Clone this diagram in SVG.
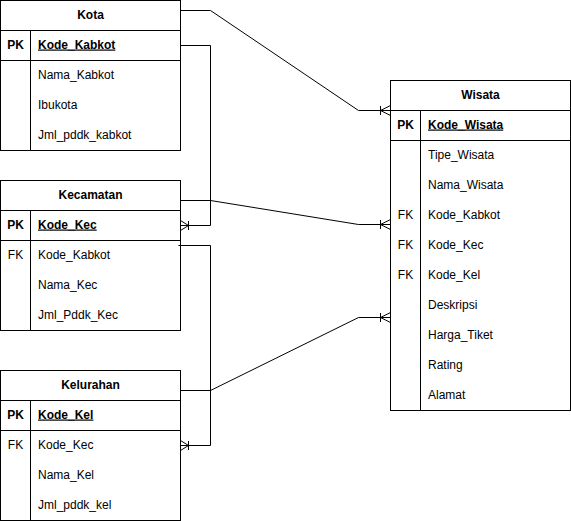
<svg xmlns="http://www.w3.org/2000/svg" width="571" height="521" viewBox="0 0 571 521">
  <style>
    .box { fill: #ffffff; stroke: #000000; stroke-width: 1; }
    .ln { fill: none; stroke: #000000; stroke-width: 1; }
    text { font-family: "Liberation Sans", Arial, Helvetica, sans-serif; font-size: 12px; fill: #000000; }
    .title { font-weight: bold; text-anchor: middle; }
    .key { font-weight: bold; text-anchor: middle; }
    .fk { text-anchor: middle; }
    .pk { font-weight: bold; text-decoration: underline; }
  </style>
  <rect width="571" height="521" fill="#ffffff"/>

  <!-- Kota -->
  <g id="kota">
    <rect class="box" x="0.5" y="0.5" width="180" height="150"/>
    <line class="ln" x1="0.5" y1="30.5" x2="180.5" y2="30.5"/>
    <line class="ln" x1="0.5" y1="60.5" x2="180.5" y2="60.5"/>
    <line class="ln" x1="30.5" y1="30.5" x2="30.5" y2="150.5"/>
    <text class="title" x="90.5" y="18.5">Kota</text>
    <text class="key" x="15.5" y="48.5">PK</text>
    <text class="pk" x="38" y="48.5">Kode_Kabkot</text>
    <text x="38" y="78.5">Nama_Kabkot</text>
    <text x="38" y="108.5">Ibukota</text>
    <text x="38" y="138.5">Jml_pddk_kabkot</text>
  </g>

  <!-- Kecamatan -->
  <g id="kecamatan">
    <rect class="box" x="0.5" y="180.5" width="180" height="150"/>
    <line class="ln" x1="0.5" y1="210.5" x2="180.5" y2="210.5"/>
    <line class="ln" x1="0.5" y1="240.5" x2="180.5" y2="240.5"/>
    <line class="ln" x1="30.5" y1="210.5" x2="30.5" y2="330.5"/>
    <text class="title" x="90.5" y="198.5">Kecamatan</text>
    <text class="key" x="15.5" y="228.5">PK</text>
    <text class="pk" x="38" y="228.5">Kode_Kec</text>
    <text class="fk" x="15.5" y="258.5">FK</text>
    <text x="38" y="258.5">Kode_Kabkot</text>
    <text x="38" y="288.5">Nama_Kec</text>
    <text x="38" y="318.5">Jml_Pddk_Kec</text>
  </g>

  <!-- Kelurahan -->
  <g id="kelurahan">
    <rect class="box" x="0.5" y="370.5" width="180" height="150"/>
    <line class="ln" x1="0.5" y1="400.5" x2="180.5" y2="400.5"/>
    <line class="ln" x1="0.5" y1="430.5" x2="180.5" y2="430.5"/>
    <line class="ln" x1="30.5" y1="400.5" x2="30.5" y2="520.5"/>
    <text class="title" x="90.5" y="388.5">Kelurahan</text>
    <text class="key" x="15.5" y="418.5">PK</text>
    <text class="pk" x="38" y="418.5">Kode_Kel</text>
    <text class="fk" x="15.5" y="448.5">FK</text>
    <text x="38" y="448.5">Kode_Kec</text>
    <text x="38" y="478.5">Nama_Kel</text>
    <text x="38" y="508.5">Jml_pddk_kel</text>
  </g>

  <!-- Wisata -->
  <g id="wisata">
    <rect class="box" x="390.5" y="80.5" width="180" height="330"/>
    <line class="ln" x1="390.5" y1="110.5" x2="570.5" y2="110.5"/>
    <line class="ln" x1="390.5" y1="140.5" x2="570.5" y2="140.5"/>
    <line class="ln" x1="420.5" y1="110.5" x2="420.5" y2="410.5"/>
    <text class="title" x="480.5" y="98.5">Wisata</text>
    <text class="key" x="405.5" y="128.5">PK</text>
    <text class="pk" x="428" y="128.5">Kode_Wisata</text>
    <text x="428" y="158.5">Tipe_Wisata</text>
    <text x="428" y="188.5">Nama_Wisata</text>
    <text class="fk" x="405.5" y="218.5">FK</text>
    <text x="428" y="218.5">Kode_Kabkot</text>
    <text class="fk" x="405.5" y="248.5">FK</text>
    <text x="428" y="248.5">Kode_Kec</text>
    <text class="fk" x="405.5" y="278.5">FK</text>
    <text x="428" y="278.5">Kode_Kel</text>
    <text x="428" y="308.5">Deskripsi</text>
    <text x="428" y="338.5">Harga_Tiket</text>
    <text x="428" y="368.5">Rating</text>
    <text x="428" y="398.5">Alamat</text>
  </g>

  <!-- Relationship connectors -->
  <g id="connectors">
    <!-- Kota -> Wisata -->
    <polyline class="ln" points="180.5,10.5 210.5,10.5 358.5,110.5 390.5,110.5"/>
    <path class="ln" d="M380.5,106 L380.5,115 M380.5,110.5 L390.5,105.5 M380.5,110.5 L390.5,115.5"/>
    <!-- Kota -> Kecamatan -->
    <polyline class="ln" points="180.5,45.5 210.5,45.5 210.5,225.5 180.5,225.5"/>
    <path class="ln" d="M188.5,221 L188.5,230 M188.5,225.5 L180.5,220.5 M188.5,225.5 L180.5,230.5"/>
    <!-- Kecamatan -> Wisata -->
    <polyline class="ln" points="180.5,200.5 210.5,200.5 358.5,224.5 390.5,224.5"/>
    <path class="ln" d="M380.5,220 L380.5,229 M380.5,224.5 L390.5,219.5 M380.5,224.5 L390.5,229.5"/>
    <!-- Kecamatan -> Kelurahan -->
    <polyline class="ln" points="178.5,245.5 210.5,245.5 210.5,445.5 180.5,445.5"/>
    <path class="ln" d="M188.5,441 L188.5,450 M188.5,445.5 L180.5,440.5 M188.5,445.5 L180.5,450.5"/>
    <!-- Kelurahan -> Wisata -->
    <polyline class="ln" points="180.5,390.5 210.5,390.5 358.5,317.5 390.5,317.5"/>
    <path class="ln" d="M380.5,313 L380.5,322 M380.5,317.5 L390.5,312.5 M380.5,317.5 L390.5,322.5"/>
  </g>
</svg>
